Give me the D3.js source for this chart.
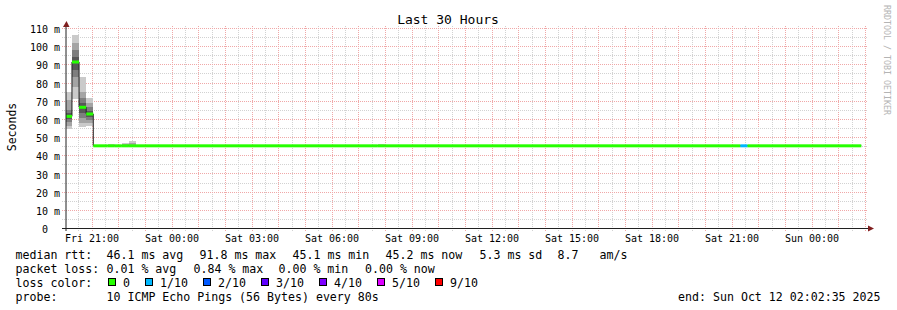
<!DOCTYPE html>
<html>
<head>
<meta charset="utf-8">
<script src="https://cdn.jsdelivr.net/npm/d3@7/dist/d3.min.js"></script>
<style>
  html, body { margin: 0; padding: 0; background: #fff; }
  svg { display: block; font-family: 'DejaVu Sans Mono', monospace; }
  text { white-space: pre; }
</style>
</head>
<body>
<svg id="chart" width="897" height="310"></svg>
<script>
// ── Data: SmokePing runs (16 min RRA steps, constant stretches merged) ───────

const runStart = [
  '2025-10-10T20:00', '2025-10-10T20:16', '2025-10-10T20:32', '2025-10-10T20:48',
  '2025-10-10T21:04', '2025-10-10T21:36', '2025-10-10T21:52', '2025-10-10T22:08',
  '2025-10-10T22:24', '2025-10-10T22:40', '2025-10-11T07:44', '2025-10-11T08:00',
  '2025-10-11T21:20', '2025-10-11T21:36'
];
const lastRunEnd = '2025-10-12T01:52';

const medianMs = [61.4, 91.3, 66.4, 62.7, 45.2, 45.2, 45.2, 45.2, 45.2, 45.2, 45.2, 45.2, 45.2, 45.2];
const lossCount = [0, 0, 0, 0, 0, 0, 0, 0, 0, 0, 0, 0, 1, 0];

// 10 sorted pings per run
const pingsMs = [
  [54.5, 56.3, 58.1, 60.0, 60.9, 61.9, 63.5, 65.0, 70.4, 74.8],
  [71.0, 77.7, 83.2, 86.9, 90.6, 92.0, 94.2, 97.9, 101.9, 106.2],
  [55.7, 57.6, 60.3, 63.5, 65.8, 67.0, 69.0, 71.3, 75.0, 83.2],
  [55.9, 57.6, 59.5, 61.0, 62.0, 63.4, 64.6, 66.5, 69.0, 71.7],
  [45.0, 45.1, 45.1, 45.2, 45.2, 45.2, 45.2, 45.3, 45.3, 45.4],
  [45.1, 45.1, 45.1, 45.2, 45.2, 45.2, 45.2, 45.3, 45.3, 46.2],
  [45.0, 45.1, 45.1, 45.2, 45.2, 45.2, 45.2, 45.3, 45.3, 45.4],
  [45.1, 45.1, 45.2, 45.2, 45.2, 45.2, 45.3, 45.3, 46.0, 46.8],
  [45.1, 45.1, 45.2, 45.2, 45.2, 45.2, 45.3, 45.8, 46.8, 48.0],
  [45.0, 45.1, 45.1, 45.2, 45.2, 45.2, 45.2, 45.3, 45.3, 45.4],
  [45.1, 45.1, 45.1, 45.2, 45.2, 45.2, 45.2, 45.3, 45.3, 46.2],
  [45.0, 45.1, 45.1, 45.2, 45.2, 45.2, 45.2, 45.3, 45.3, 45.4],
  [45.0, 45.1, 45.1, 45.2, 45.2, 45.2, 45.2, 45.3, 45.3, 45.4],
  [45.0, 45.1, 45.1, 45.2, 45.2, 45.2, 45.2, 45.3, 45.3, 45.4]
];

const yTickValues = [0, 10, 20, 30, 40, 50, 60, 70, 80, 90, 100, 110];
const yMinorValues = [5, 15, 25, 35, 45, 55, 65, 75, 85, 95, 105];

const lossSteps  = [0, 1, 2, 3, 4, 5, 9];
const lossLabels = ['0', '1/10', '2/10', '3/10', '4/10', '5/10', '9/10'];
const lossColors = ['#26ff00', '#00b8ff', '#0059ff', '#5e00ff', '#7e00ff', '#dd00ff', '#ff0000'];
const smokeColors = ['#cacaca', '#a4a4a4', '#7e7e7e', '#585858', '#323232'];

const rttStats  = ['46.1 ms avg', '91.8 ms max', '45.1 ms min', '45.2 ms now', '5.3 ms sd', '8.7', 'am/s'];
const lossStats = ['0.01 % avg', '0.84 % max', '0.00 % min', '0.00 % now'];
const probeText = '10 ICMP Echo Pings (56 Bytes) every 80s';
const endText   = 'end: Sun Oct 12 02:02:35 2025';

// ── Layout ───────────────────────────────────────────────────────────────────

const PLOT = { left: 66, right: 866, top: 28, bottom: 228 };
const FONT = "'DejaVu Sans Mono', monospace";
const GRID_MINOR = '#d2d2d2';
const GRID_MAJOR = '#f0a8a8';
const ARROW = '#801f1f';

const parse = d3.utcParse('%Y-%m-%dT%H:%M');
const startTime = Date.UTC(2025, 9, 10, 20, 2, 35);
const endTime   = Date.UTC(2025, 9, 12, 2, 2, 35);

const runs = runStart.map((s, i) => ({
  start:  parse(s),
  end:    parse(i < runStart.length - 1 ? runStart[i + 1] : lastRunEnd),
  median: medianMs[i],
  loss:   lossCount[i],
  pings:  pingsMs[i]
}));

const x = d3.scaleUtc().domain([startTime, endTime]).range([PLOT.left, PLOT.right]);
const y = d3.scaleLinear().domain([0, 110]).range([PLOT.bottom, PLOT.top]);

const svg = d3.select('#chart');
svg.append('rect').attr('width', 897).attr('height', 310).attr('fill', '#fff');

svg.append('clipPath').attr('id', 'plot-clip')
  .append('rect')
  .attr('x', PLOT.left).attr('y', PLOT.top - 2)
  .attr('width', PLOT.right - PLOT.left).attr('height', PLOT.bottom - PLOT.top + 2);

// ── Grid ─────────────────────────────────────────────────────────────────────

const grid = svg.append('g').attr('stroke-dasharray', '1,1').attr('stroke-width', 1);

const halfHours = d3.utcMinute.every(30).range(new Date(startTime), new Date(endTime));
grid.selectAll('line.v')
  .data(halfHours)
  .join('line')
  .attr('x1', d => Math.round(x(d)) + 0.5)
  .attr('x2', d => Math.round(x(d)) + 0.5)
  .attr('y1', PLOT.top - 2)
  .attr('y2', PLOT.bottom + 3)
  .attr('stroke', d => d.getUTCMinutes() === 0 ? GRID_MAJOR : GRID_MINOR);

grid.selectAll('line.h')
  .data(yMinorValues.concat(yTickValues.filter(v => v > 0)))
  .join('line')
  .attr('x1', PLOT.left - 4)
  .attr('x2', PLOT.right + 2)
  .attr('y1', d => Math.round(y(d)) + 0.5)
  .attr('y2', d => Math.round(y(d)) + 0.5)
  .attr('stroke', d => d % 10 === 0 ? GRID_MAJOR : GRID_MINOR);

// ── Smoke, median and loss band ──────────────────────────────────────────────

const plot = svg.append('g').attr('clip-path', 'url(#plot-clip)');

smokeColors.forEach((color, i) => {
  plot.append('g').selectAll('rect')
    .data(runs)
    .join('rect')
    .attr('x', d => x(d.start))
    .attr('width', d => x(d.end) - x(d.start))
    .attr('y', d => y(d.pings[9 - i]))
    .attr('height', d => y(d.pings[i]) - y(d.pings[9 - i]))
    .attr('fill', color)
    .attr('shape-rendering', 'crispEdges');
});

const medianLine = d3.line()
  .x(d => x(d[0]))
  .y(d => y(d[1]))
  .curve(d3.curveStepAfter);

const medianPts = runs.map(r => [r.start, r.median]);
medianPts.push([runs[runs.length - 1].end, runs[runs.length - 1].median]);

plot.append('path')
  .attr('d', medianLine(medianPts))
  .attr('fill', 'none')
  .attr('stroke', '#202020')
  .attr('stroke-width', 1);

function lossColor(n) {
  let idx = 0;
  lossSteps.forEach((s, i) => { if (n >= s) idx = i; });
  return lossColors[idx];
}

const bandHalf = 1.5;
plot.append('g').selectAll('rect')
  .data(runs)
  .join('rect')
  .attr('x', d => x(d.start))
  .attr('width', d => x(d.end) - x(d.start))
  .attr('y', d => y(d.median) - bandHalf)
  .attr('height', bandHalf * 2)
  .attr('fill', d => lossColor(d.loss));

// ── Axes ─────────────────────────────────────────────────────────────────────

svg.append('line')
  .attr('x1', PLOT.left).attr('x2', PLOT.left)
  .attr('y1', PLOT.bottom + 3).attr('y2', PLOT.top - 3)
  .attr('stroke', '#202020');

svg.append('line')
  .attr('x1', PLOT.left - 4).attr('x2', PLOT.right + 3)
  .attr('y1', PLOT.bottom + 0.5).attr('y2', PLOT.bottom + 0.5)
  .attr('stroke', '#202020');

svg.append('path')
  .attr('d', `M${PLOT.left - 3},${PLOT.top - 1}L${PLOT.left + 3.5},${PLOT.top - 1}L${PLOT.left + 0.5},${PLOT.top - 7}Z`)
  .attr('fill', ARROW);
svg.append('path')
  .attr('d', `M${PLOT.right + 2},${PLOT.bottom - 2.5}L${PLOT.right + 2},${PLOT.bottom + 3.5}L${PLOT.right + 8},${PLOT.bottom + 0.5}Z`)
  .attr('fill', ARROW);

const xAxisG = svg.append('g')
  .attr('transform', `translate(0,${PLOT.bottom})`)
  .call(d3.axisBottom(x)
    .ticks(d3.utcHour.every(3))
    .tickFormat(d3.utcFormat('%a %H:%M'))
    .tickSize(0));
xAxisG.select('.domain').remove();
xAxisG.attr('font-family', FONT).attr('font-size', 10);
xAxisG.selectAll('text').attr('y', 13.5).attr('dy', null).attr('fill', '#000');

const yAxisG = svg.append('g')
  .attr('transform', `translate(${PLOT.left},0)`)
  .call(d3.axisLeft(y)
    .tickValues(yTickValues)
    .tickFormat(d => d === 0 ? '0  ' : `${d} m`)
    .tickSize(0)
    .tickPadding(6));
yAxisG.select('.domain').remove();
yAxisG.attr('font-family', FONT).attr('font-size', 10);
yAxisG.selectAll('text').attr('dy', null).attr('y', 4.6).attr('fill', '#000');

// ── Titles ───────────────────────────────────────────────────────────────────

svg.append('text')
  .attr('x', 448).attr('y', 24)
  .attr('text-anchor', 'middle')
  .style('font-size', '13px')
  .text('Last 30 Hours');

svg.append('text')
  .attr('transform', 'translate(15.5,127) rotate(-90)')
  .attr('text-anchor', 'middle')
  .style('font-size', '11.5px')
  .text('Seconds');

svg.append('text')
  .attr('transform', 'translate(884,5) rotate(90)')
  .style('font-size', '8.3px')
  .attr('fill', '#b4b4b4')
  .text('RRDTOOL / TOBI OETIKER');

// ── Legend ───────────────────────────────────────────────────────────────────

const legend = svg.append('g').style('font-size', '11.6px').attr('fill', '#000');
const rowY = [258.5, 272.5, 286.5, 300.5];

function put(txt, px, py, anchor) {
  legend.append('text').attr('x', px).attr('y', py)
    .attr('text-anchor', anchor || 'start').text(txt);
}

put('median rtt:', 15.5, rowY[0]);
[106.5, 199.5, 292.5, 385.5, 479.5, 557.5, 599.5].forEach((px, i) => put(rttStats[i], px, rowY[0]));

put('packet loss:', 15.5, rowY[1]);
[106.5, 193.5, 278.5, 365].forEach((px, i) => put(lossStats[i], px, rowY[1]));

put('loss color:', 15.5, rowY[2]);
const swatchX = [108.5, 145.5, 203.5, 261.5, 319.5, 377.5, 435.5];
swatchX.forEach((px, i) => {
  legend.append('rect')
    .attr('x', px).attr('y', 278.5)
    .attr('width', 7).attr('height', 7)
    .attr('fill', lossColors[i])
    .attr('stroke', '#000');
  put(lossLabels[i], px + 14.5, rowY[2]);
});

put('probe:', 15.5, rowY[3]);
put(probeText, 106.5, rowY[3]);
put(endText, 880.5, rowY[3], 'end');
</script>
</body>
</html>
